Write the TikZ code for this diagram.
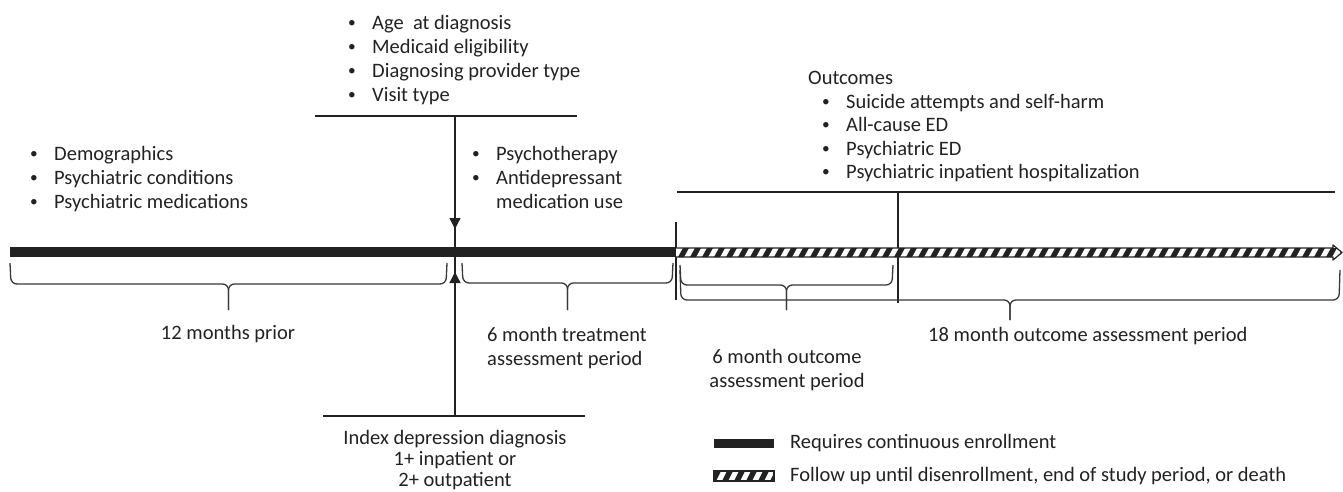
\documentclass[tikz,border=0pt]{standalone}
\usepackage{fontspec}
\setmainfont{Carlito}
\usetikzlibrary{arrows.meta}
\definecolor{ink}{HTML}{222222}
% bullet item and timeline brace
\newcommand{\itm}[1]{\makebox[24pt][l]{\raisebox{1.6pt}{\scalebox{0.75}{\textbullet}}}#1}
\newcommand{\tbrace}[5]{%
  \draw[brc] (#1,#3) -- (#1+1,#4) -- ({(#1+#2)/2},#4) -- ({(#1+#2)/2},#5);
  \draw[brc] (#2,#3) -- (#2-1,#4) -- ({(#1+#2)/2},#4) -- ({(#1+#2)/2},#5);}
\tikzset{
  txt/.style={font=\fontsize{20.5}{24}\selectfont, inner sep=0pt, text=ink, align=left},
  brc/.style={line width=1.3pt, draw=ink!90, rounded corners=6pt},
  ln/.style={line width=1.3pt, draw=ink}
}
\begin{document}
\begin{tikzpicture}[x=1pt,y=-1pt]
		\useasboundingbox (0,0) rectangle (1343,492);
		% bullet lists
		\node[txt, anchor=north west] (base) at (30,146) {\itm{Demographics}\\\itm{Psychiatric conditions}\\\itm{Psychiatric medications}};
		\node[txt, anchor=north west] (diag) at (348,15) {\itm{Age\ \ at diagnosis}\\\itm{Medicaid eligibility}\\\itm{Diagnosing provider type}\\\itm{Visit type}};
		\node[txt, anchor=north west] (treat) at (472,146) {\itm{Psychotherapy}\\\itm{Antidepressant}\\\hspace*{24pt}medication use};
		\node[txt, anchor=north west, font=\fontsize{20.5}{23.5}\selectfont] (outc) at (808,71) {Outcomes\\\hspace*{14pt}\itm{Suicide attempts and self-harm}\\\hspace*{14pt}\itm{All-cause ED}\\\hspace*{14pt}\itm{Psychiatric ED}\\\hspace*{14pt}\itm{Psychiatric inpatient hospitalization}};
		% index diagnosis
		\coordinate (dxtop) at (455,116);
		\coordinate (dxbot) at (455,416);
		\coordinate (dxin) at (455,229);
		\coordinate (dxup) at (455,272);
		\draw[ln] (315,116) -- (577,116);
		\draw[ln] (323,416) -- (585,416);
		\draw[ln] (dxtop) -- (dxbot);
		\draw[ln, -{Triangle[width=11pt,length=11pt]}] (dxtop) -- (dxin);
		\draw[ln, -{Triangle[width=11pt,length=11pt]}] (dxbot) -- (dxup);
		\node[txt, align=center, anchor=north, font=\fontsize{20.5}{21}\selectfont] (index) at (dxbot |- 0,430) {Index depression diagnosis\\1+ inpatient or\\2+ outpatient};
		% outcome markers
		\draw[ln] (676,222) -- (676,300);
		\draw[ln] (677,192) -- (1335,192);
		\draw[ln] (898,192) -- (898,303);
		% timeline
		\fill[ink] (10,247) rectangle (676,257);
		\begin{scope}
			\clip (676,248) -- (1333,248) -- (1333,245) -- (1342,252.5) -- (1333,260) -- (1333,257) -- (676,257) -- cycle;
			\fill[white] (676,240) rectangle (1345,265);
			\foreach \x in {678,690,...,1340}
				\fill[ink] (\x,257) -- (\x+6,257) -- (\x+11,248) -- (\x+5,248) -- cycle;
		\end{scope}
		\draw[ink, line width=1.2pt, line join=round] (676,248) -- (1333,248) -- (1333,245) -- (1342,252.5) -- (1333,260) -- (1333,257) -- (676,257);
		% braces
		\tbrace{10}{447}{263}{284}{310}
		\tbrace{462}{673}{263}{283}{310}
		\tbrace{680}{893}{265}{285}{310}
		\tbrace{680}{1340}{270}{300}{320}
		% period labels
		\node[txt, anchor=north] (prior) at (228,325) {12 months prior};
		\node[txt, anchor=north west] (treatlbl) at (487,327) {6 month treatment\\assessment period};
		\node[txt, anchor=north, align=center] (sixlbl) at (787,349) {6 month outcome\\assessment period};
		\node[txt, anchor=north west] (eighteen) at (928,327) {18 month outcome assessment period};
		% legend
		\fill[ink] (714,439) rectangle (774,448);
		\begin{scope}
			\clip (714,471) rectangle (774,481);
			\foreach \x in {710,722,...,780}
				\fill[ink] (\x,481) -- (\x+6,481) -- (\x+11,471) -- (\x+5,471) -- cycle;
		\end{scope}
		\draw[ink, line width=1.2pt] (714,471) rectangle (774,481);
		\node[txt, anchor=west] (enroll) at (790,443) {Requires continuous enrollment};
		\node[txt, anchor=west] (follow) at (790,476) {Follow up until disenrollment, end of study period, or death};
\end{tikzpicture}
\end{document}
